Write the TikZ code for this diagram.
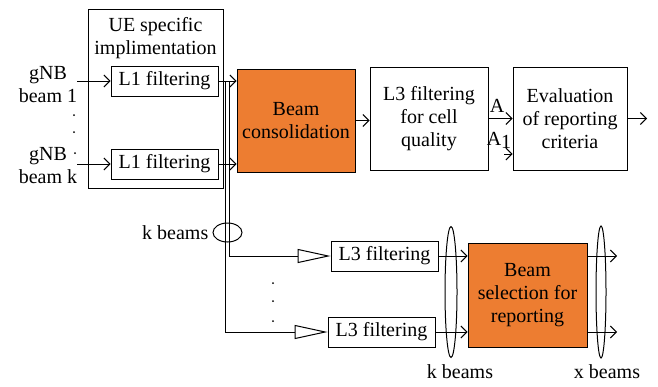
\documentclass[tikz,border=0pt]{standalone}
\usepackage{fontspec}
\setmainfont{Liberation Serif}
\usetikzlibrary{arrows.meta,shapes.geometric}
\definecolor{beamorange}{HTML}{ED7D31}
\tikzset{
  blk/.style={draw,line width=0.8pt,inner sep=0pt,align=center,font=\fontsize{20}{23}\selectfont},
  hot/.style={blk,fill=beamorange},
  lbl/.style={inner sep=0pt,align=center,font=\fontsize{20}{23}\selectfont},
  sig/.style={line width=1pt,-{Straight Barb[length=6pt,width=12pt]}},
  tri/.style={line width=1pt,-{Triangle[open,length=33pt,width=14pt]}},
  grp/.style={draw,ellipse,line width=1pt,inner sep=0pt},
}
\begin{document}
\begin{tikzpicture}[x=1pt,y=-1pt]
  \useasboundingbox (0,0) rectangle (658,386);
  % UE side
  \node[blk,minimum width=135pt,minimum height=179pt] (ue) at (155.5,98.5) {};
  \node[lbl] (uetxt) at (155.5,38) {UE specific\\implimentation};
  \node[blk,minimum width=107pt,minimum height=30pt] (l1a) at (164.5,81) {L1 filtering};
  \node[blk,minimum width=107pt,minimum height=30pt] (l1b) at (164.5,164) {L1 filtering};
  \node[lbl] (gnba) at (48,85) {gNB\\beam 1};
  \node[lbl] (gnbk) at (48,166) {gNB\\beam k};
  \coordinate (ina) at (77,81);
  \coordinate (ink) at (77,164);
  \draw[sig] (ina) -- (l1a.west);
  \draw[sig] (ink) -- (l1b.west);
  \fill (74,115) circle (1pt);
  \fill (74,132) circle (1pt);
  \fill (75,153) circle (1pt);
  % top row
  \node[hot,minimum width=118pt,minimum height=103pt] (cons) at (296,120.5) {Beam\\consolidation};
  \node[blk,minimum width=118pt,minimum height=103pt] (l3cq) at (429,118.5) {L3 filtering\\for cell\\quality};
  \node[blk,minimum width=114pt,minimum height=103pt] (eval) at (570,118.5) {Evaluation\\of reporting\\criteria};
  \draw[sig] (l1a.east) -- (l1a.east -| cons.west);
  \draw[sig] (l1b.east) -- (l1b.east -| cons.west);
  \draw[sig] (cons.east) -- (cons.east -| l3cq.west);
  \draw[sig] (l3cq.east) -- (eval.west);
  \node[lbl] (alab) at (497,106) {A};
  \node[lbl] (aonelab) at (499,140) {A\raisebox{-3pt}{1}};
  \coordinate (aone) at (504,154);
  \draw[sig] (aone) -- (aone -| eval.west);
  \coordinate (evout) at (647,118.5);
  \draw[sig] (eval.east) -- (evout);
  % per-beam branch
  \node[blk,minimum width=107pt,minimum height=30pt] (l3a) at (384.5,256) {L3 filtering};
  \node[blk,minimum width=107pt,minimum height=30pt] (l3b) at (381.5,332) {L3 filtering};
  \draw[tri] ([xshift=11pt]l1a.east) |- (l3a.west);
  \draw[tri] ([xshift=7pt]l1a.east) |- (l3b.west);
  \node[grp,minimum width=29pt,minimum height=19pt] (kring) at (227.5,232.5) {};
  \node[lbl,anchor=east] (ktxt) at ([xshift=-4pt]kring.west) {k beams};
  \fill (273,283) circle (1pt);
  \fill (273,301) circle (1pt);
  \fill (273,321) circle (1pt);
  \node[hot,minimum width=119pt,minimum height=104pt] (sel) at (527.5,295) {Beam\\selection for\\reporting};
  \draw[sig] (l3a.east) -- (l3a.east -| sel.west);
  \draw[sig] (l3b.east) -- (l3b.east -| sel.west);
  \coordinate (outa) at (617,256);
  \coordinate (outb) at (617,332);
  \draw[sig] (sel.east |- outa) -- (outa);
  \draw[sig] (sel.east |- outb) -- (outb);
  \node[grp,minimum width=12pt,minimum height=131pt] (kgrp) at (451,292) {};
  \node[grp,minimum width=10pt,minimum height=132pt] (xgrp) at (601,292) {};
  \node[lbl] (kbot) at (460,372) {k beams};
  \node[lbl] (xbot) at (607,372) {x beams};
\end{tikzpicture}
\end{document}
